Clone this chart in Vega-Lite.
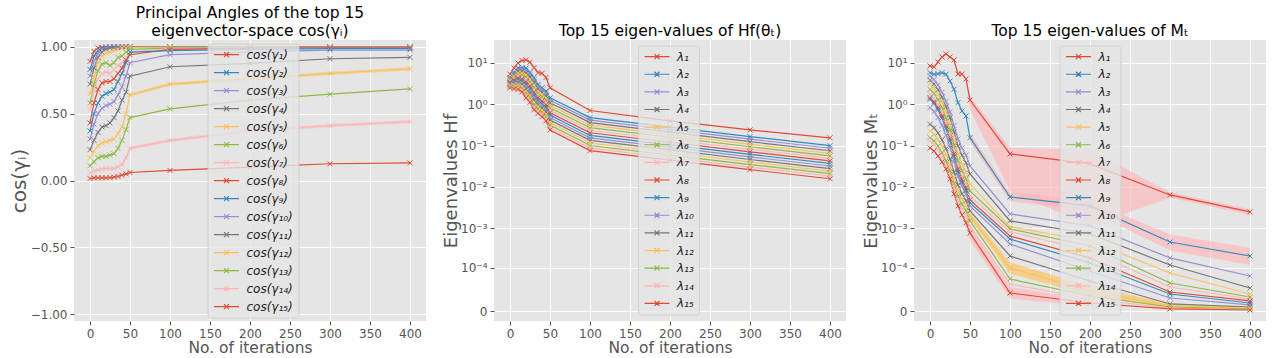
{
"$schema": "https://vega.github.io/schema/vega-lite/v6.json",
"padding": {"left": 9, "top": 5, "right": 5, "bottom": 0},
"background": "#FFFFFF",
"config": {
  "view": {"fill": "#E5E5E5", "stroke": null},
  "axis": {"gridColor": "#FFFFFF", "gridWidth": 1, "domain": false, "tickColor": "#555555", "tickSize": 4, "labelColor": "#555555", "labelFont": "DejaVu Sans", "labelFontSize": 12, "titleFont": "DejaVu Sans", "titleColor": "#555555", "titleFontWeight": "normal", "labelPadding": 3},
  "title": {"font": "DejaVu Sans", "fontSize": 15.5, "fontWeight": "normal", "color": "#000000", "offset": 1, "anchor": "middle", "lineHeight": 18},
  "legend": {"labelFont": "DejaVu Sans", "labelFontSize": 12, "labelColor": "#222222", "labelFontStyle": "italic", "title": null, "orient": "none", "symbolType": "M-2.5,0H2.5M-0.5,-0.5L0.5,0.5M-0.5,0.5L0.5,-0.5", "symbolSize": 100, "symbolStrokeWidth": 1.2, "symbolOffset": 8, "labelOffset": 14, "padding": 5, "rowPadding": 5.63, "fillColor": "rgba(229,229,229,0.8)", "strokeColor": "rgba(204,204,204,0.8)", "cornerRadius": 3, "symbolOpacity": 1}
},
"spacing": 68,
"bounds": "flush",
"resolve": {"scale": {"x": "independent", "y": "independent", "color": "independent", "fill": "independent"}, "legend": {"color": "independent"}},
"hconcat": [
{
  "width": 352, "height": 281,
  "title": {"text": ["Principal Angles of the top 15", "eigenvector-space cos(γᵢ)"]},
  "layer": [
    {"data": {"name": "b1"}, "mark": {"type": "area", "opacity": 0.5},
     "encoding": {
       "x": {"field": "x", "type": "quantitative", "scale": {"domain": [-20, 420], "nice": false, "zero": false}},
       "y": {"field": "lo", "type": "quantitative", "scale": {"domain": [-1.05, 1.05], "nice": false, "zero": false}},
       "y2": {"field": "hi"},
       "fill": {"field": "s", "type": "nominal", "scale": {"domain": [12, 14], "range": ["#FBC15E", "#FFB5B8"]}, "legend": null}
     }},
    {"data": {"name": "p1"}, "mark": {"type": "line", "strokeWidth": 1.2},
     "encoding": {
       "x": {"field": "x", "type": "quantitative", "axis": {"values": [0,50,100,150,200,250,300,350,400], "title": "No. of iterations", "titleFontSize": 15.5, "titlePadding": 1}},
       "y": {"field": "v", "type": "quantitative", "axis": {"values": [-1,-0.75,-0.5,-0.25,0,0.25,0.5,0.75,1], "format": ".2f", "title": "cos(γᵢ)", "titleFontSize": 20, "titlePadding": 1}},
       "color": {"field": "s", "type": "nominal", "scale": {"domain": [1,2,3,4,5,6,7,8,9,10,11,12,13,14,15], "range": ["#E24A33","#348ABD","#988ED5","#777777","#FBC15E","#8EBA42","#FFB5B8","#E24A33","#348ABD","#988ED5","#777777","#FBC15E","#8EBA42","#FFB5B8","#E24A33"]}, "legend": {"legendX": 133.5, "legendY": 3.6, "rowPadding": 6.0, "labelExpr": "['cos(γ₁)','cos(γ₂)','cos(γ₃)','cos(γ₄)','cos(γ₅)','cos(γ₆)','cos(γ₇)','cos(γ₈)','cos(γ₉)','cos(γ₁₀)','cos(γ₁₁)','cos(γ₁₂)','cos(γ₁₃)','cos(γ₁₄)','cos(γ₁₅)'][datum.value-1]"}}
     }},
    {"data": {"name": "p1"}, "mark": {"type": "point", "shape": "M-1,-1L1,1M-1,1L1,-1", "filled": false, "size": 25, "strokeWidth": 1, "opacity": 1},
     "encoding": {
       "x": {"field": "x", "type": "quantitative"},
       "y": {"field": "v", "type": "quantitative"},
       "color": {"field": "s", "type": "nominal"}
     }}
  ]
},
{
  "width": 352, "height": 281,
  "title": {"text": "Top 15 eigen-values of Hf(θₜ)"},
  "layer": [
    {"data": {"name": "p2"}, "mark": {"type": "line", "strokeWidth": 1.2},
     "encoding": {
       "x": {"field": "x", "type": "quantitative", "scale": {"domain": [-20, 420], "nice": false, "zero": false}, "axis": {"values": [0,50,100,150,200,250,300,350,400], "title": "No. of iterations", "titleFontSize": 15.5, "titlePadding": 1}},
       "y": {"field": "v", "type": "quantitative", "scale": {"type": "symlog", "constant": 0.00001, "domain": [-0.00000745, 36.0], "nice": false, "zero": false}, "axis": {"values": [0, 0.0001, 0.001, 0.01, 0.1, 1, 10], "labelExpr": "datum.value == 0 ? '0' : datum.value > 5 ? '10¹' : datum.value > 0.5 ? '10⁰' : datum.value > 0.05 ? '10⁻¹' : datum.value > 0.005 ? '10⁻²' : datum.value > 0.0005 ? '10⁻³' : '10⁻⁴'", "title": "Eigenvalues Hf", "titleFontSize": 18, "titlePadding": 0}},
       "color": {"field": "s", "type": "nominal", "scale": {"domain": [1,2,3,4,5,6,7,8,9,10,11,12,13,14,15], "range": ["#E24A33","#348ABD","#988ED5","#777777","#FBC15E","#8EBA42","#FFB5B8","#E24A33","#348ABD","#988ED5","#777777","#FBC15E","#8EBA42","#FFB5B8","#E24A33"]}, "legend": {"legendX": 144, "legendY": 5.6, "labelExpr": "['λ₁','λ₂','λ₃','λ₄','λ₅','λ₆','λ₇','λ₈','λ₉','λ₁₀','λ₁₁','λ₁₂','λ₁₃','λ₁₄','λ₁₅'][datum.value-1]"}}
     }},
    {"data": {"name": "p2"}, "mark": {"type": "point", "shape": "M-1,-1L1,1M-1,1L1,-1", "filled": false, "size": 25, "strokeWidth": 1, "opacity": 1},
     "encoding": {
       "x": {"field": "x", "type": "quantitative"},
       "y": {"field": "v", "type": "quantitative"},
       "color": {"field": "s", "type": "nominal"}
     }}
  ]
},
{
  "width": 352, "height": 281,
  "title": {"text": "Top 15 eigen-values of Mₜ"},
  "layer": [
    {"data": {"name": "b3"}, "mark": {"type": "area", "opacity": 0.65},
     "encoding": {
       "x": {"field": "x", "type": "quantitative", "scale": {"domain": [-20, 420], "nice": false, "zero": false}},
       "y": {"field": "lo", "type": "quantitative", "scale": {"type": "symlog", "constant": 0.00001, "domain": [-0.00000745, 36.0], "nice": false, "zero": false}},
       "y2": {"field": "hi"},
       "fill": {"field": "s", "type": "nominal", "scale": {"domain": [1, 2, 12, 15], "range": ["#FFB5B8", "#FFB5B8", "#FBC15E", "#FFB5B8"]}, "legend": null}
     }},
    {"data": {"name": "p3"}, "mark": {"type": "line", "strokeWidth": 1.2},
     "encoding": {
       "x": {"field": "x", "type": "quantitative", "axis": {"values": [0,50,100,150,200,250,300,350,400], "title": "No. of iterations", "titleFontSize": 15.5, "titlePadding": 1}},
       "y": {"field": "v", "type": "quantitative", "axis": {"values": [0, 0.0001, 0.001, 0.01, 0.1, 1, 10], "labelExpr": "datum.value == 0 ? '0' : datum.value > 5 ? '10¹' : datum.value > 0.5 ? '10⁰' : datum.value > 0.05 ? '10⁻¹' : datum.value > 0.005 ? '10⁻²' : datum.value > 0.0005 ? '10⁻³' : '10⁻⁴'", "title": "Eigenvalues Mₜ", "titleFontSize": 18, "titlePadding": 0}},
       "color": {"field": "s", "type": "nominal", "scale": {"domain": [1,2,3,4,5,6,7,8,9,10,11,12,13,14,15], "range": ["#E24A33","#348ABD","#988ED5","#777777","#FBC15E","#8EBA42","#FFB5B8","#E24A33","#348ABD","#988ED5","#777777","#FBC15E","#8EBA42","#FFB5B8","#E24A33"]}, "legend": {"legendX": 145.5, "legendY": 5.6, "labelExpr": "['λ₁','λ₂','λ₃','λ₄','λ₅','λ₆','λ₇','λ₈','λ₉','λ₁₀','λ₁₁','λ₁₂','λ₁₃','λ₁₄','λ₁₅'][datum.value-1]"}}
     }},
    {"data": {"name": "p3"}, "mark": {"type": "point", "shape": "M-1,-1L1,1M-1,1L1,-1", "filled": false, "size": 25, "strokeWidth": 1, "opacity": 1},
     "encoding": {
       "x": {"field": "x", "type": "quantitative"},
       "y": {"field": "v", "type": "quantitative"},
       "color": {"field": "s", "type": "nominal"}
     }}
  ]
}
],
"datasets": {
"b1": [
{"s":12,"x":40,"lo":0.388,"hi":0.412},{"s":12,"x":45,"lo":0.488,"hi":0.512},{"s":12,"x":50,"lo":0.628,"hi":0.652},{"s":12,"x":100,"lo":0.708,"hi":0.732},{"s":12,"x":200,"lo":0.748,"hi":0.772},{"s":12,"x":300,"lo":0.788,"hi":0.812},{"s":12,"x":400,"lo":0.823,"hi":0.847},
{"s":14,"x":40,"lo":0.108,"hi":0.132},{"s":14,"x":45,"lo":0.158,"hi":0.182},{"s":14,"x":50,"lo":0.228,"hi":0.252},{"s":14,"x":100,"lo":0.288,"hi":0.312},{"s":14,"x":200,"lo":0.358,"hi":0.382},{"s":14,"x":300,"lo":0.398,"hi":0.422},{"s":14,"x":400,"lo":0.428,"hi":0.452}
],
"b3": [
{"s":1,"x":0,"lo":8.0,"hi":9.0},{"s":1,"x":5,"lo":7.5,"hi":8.6},{"s":1,"x":10,"lo":10.0,"hi":11.2},{"s":1,"x":15,"lo":13.2,"hi":14.8},{"s":1,"x":20,"lo":15.6,"hi":17.4},{"s":1,"x":25,"lo":13.2,"hi":14.8},{"s":1,"x":30,"lo":11.1,"hi":12.5},{"s":1,"x":35,"lo":5.0,"hi":5.9},{"s":1,"x":40,"lo":5.0,"hi":5.9},{"s":1,"x":45,"lo":3.8,"hi":4.4},{"s":1,"x":50,"lo":0.75,"hi":1.6},{"s":1,"x":100,"lo":0.0079,"hi":0.089},{"s":1,"x":200,"lo":0.00114,"hi":0.08},{"s":1,"x":300,"lo":0.0055,"hi":0.0075},{"s":1,"x":400,"lo":0.0021,"hi":0.0029},
{"s":2,"x":50,"lo":0.12,"hi":0.2},{"s":2,"x":100,"lo":0.0045,"hi":0.0075},{"s":2,"x":200,"lo":0.0026,"hi":0.0046},{"s":2,"x":300,"lo":2.8e-4,"hi":7e-4},{"s":2,"x":400,"lo":1.2e-4,"hi":3.3e-4},
{"s":12,"x":50,"lo":0.0017,"hi":0.0024},{"s":12,"x":100,"lo":7e-5,"hi":1.4e-4},{"s":12,"x":200,"lo":1.4e-5,"hi":3e-5},{"s":12,"x":300,"lo":2e-6,"hi":5e-6},{"s":12,"x":400,"lo":1e-6,"hi":2.8e-6},
{"s":15,"x":45,"lo":0.0011,"hi":0.0016},{"s":15,"x":50,"lo":5e-4,"hi":1.1e-3},{"s":15,"x":100,"lo":1.0e-5,"hi":2.8e-5},{"s":15,"x":200,"lo":3e-6,"hi":9e-6}
],
"p1": [
{"s":1,"x":0,"v":0.89},{"s":1,"x":5,"v":0.965},{"s":1,"x":10,"v":0.99},{"s":1,"x":15,"v":0.995},{"s":1,"x":20,"v":0.998},{"s":1,"x":25,"v":0.999},{"s":1,"x":30,"v":0.999},{"s":1,"x":35,"v":0.999},{"s":1,"x":40,"v":1},{"s":1,"x":45,"v":1},{"s":1,"x":50,"v":1},{"s":1,"x":100,"v":0.999},{"s":1,"x":200,"v":0.999},{"s":1,"x":300,"v":0.999},{"s":1,"x":400,"v":0.999},
{"s":2,"x":0,"v":0.83},{"s":2,"x":5,"v":0.93},{"s":2,"x":10,"v":0.97},{"s":2,"x":15,"v":0.99},{"s":2,"x":20,"v":0.995},{"s":2,"x":25,"v":0.997},{"s":2,"x":30,"v":0.998},{"s":2,"x":35,"v":0.998},{"s":2,"x":40,"v":0.999},{"s":2,"x":45,"v":0.999},{"s":2,"x":50,"v":0.999},{"s":2,"x":100,"v":0.998},{"s":2,"x":200,"v":0.998},{"s":2,"x":300,"v":0.998},{"s":2,"x":400,"v":0.998},
{"s":3,"x":0,"v":0.78},{"s":3,"x":5,"v":0.89},{"s":3,"x":10,"v":0.95},{"s":3,"x":15,"v":0.98},{"s":3,"x":20,"v":0.99},{"s":3,"x":25,"v":0.994},{"s":3,"x":30,"v":0.996},{"s":3,"x":35,"v":0.997},{"s":3,"x":40,"v":0.998},{"s":3,"x":45,"v":0.998},{"s":3,"x":50,"v":0.998},{"s":3,"x":100,"v":0.997},{"s":3,"x":200,"v":0.997},{"s":3,"x":300,"v":0.997},{"s":3,"x":400,"v":0.997},
{"s":4,"x":0,"v":0.72},{"s":4,"x":5,"v":0.84},{"s":4,"x":10,"v":0.92},{"s":4,"x":15,"v":0.96},{"s":4,"x":20,"v":0.98},{"s":4,"x":25,"v":0.99},{"s":4,"x":30,"v":0.993},{"s":4,"x":35,"v":0.995},{"s":4,"x":40,"v":0.996},{"s":4,"x":45,"v":0.997},{"s":4,"x":50,"v":0.997},{"s":4,"x":100,"v":0.996},{"s":4,"x":200,"v":0.996},{"s":4,"x":300,"v":0.996},{"s":4,"x":400,"v":0.996},
{"s":5,"x":0,"v":0.65},{"s":5,"x":5,"v":0.78},{"s":5,"x":10,"v":0.88},{"s":5,"x":15,"v":0.93},{"s":5,"x":20,"v":0.95},{"s":5,"x":25,"v":0.96},{"s":5,"x":30,"v":0.97},{"s":5,"x":35,"v":0.98},{"s":5,"x":40,"v":0.99},{"s":5,"x":45,"v":0.99},{"s":5,"x":50,"v":0.995},{"s":5,"x":100,"v":0.995},{"s":5,"x":200,"v":0.995},{"s":5,"x":300,"v":0.995},{"s":5,"x":400,"v":0.995},
{"s":6,"x":0,"v":0.58},{"s":6,"x":5,"v":0.72},{"s":6,"x":10,"v":0.82},{"s":6,"x":15,"v":0.87},{"s":6,"x":20,"v":0.88},{"s":6,"x":25,"v":0.86},{"s":6,"x":30,"v":0.88},{"s":6,"x":35,"v":0.92},{"s":6,"x":40,"v":0.93},{"s":6,"x":45,"v":0.96},{"s":6,"x":50,"v":0.98},{"s":6,"x":100,"v":0.99},{"s":6,"x":200,"v":0.993},{"s":6,"x":300,"v":0.994},{"s":6,"x":400,"v":0.994},
{"s":7,"x":0,"v":0.53},{"s":7,"x":5,"v":0.68},{"s":7,"x":10,"v":0.76},{"s":7,"x":15,"v":0.80},{"s":7,"x":20,"v":0.81},{"s":7,"x":25,"v":0.80},{"s":7,"x":30,"v":0.83},{"s":7,"x":35,"v":0.86},{"s":7,"x":40,"v":0.88},{"s":7,"x":45,"v":0.92},{"s":7,"x":50,"v":0.96},{"s":7,"x":100,"v":0.985},{"s":7,"x":200,"v":0.99},{"s":7,"x":300,"v":0.992},{"s":7,"x":400,"v":0.993},
{"s":8,"x":0,"v":0.43},{"s":8,"x":5,"v":0.58},{"s":8,"x":10,"v":0.68},{"s":8,"x":15,"v":0.73},{"s":8,"x":20,"v":0.74},{"s":8,"x":25,"v":0.74},{"s":8,"x":30,"v":0.76},{"s":8,"x":35,"v":0.80},{"s":8,"x":40,"v":0.84},{"s":8,"x":45,"v":0.90},{"s":8,"x":50,"v":0.94},{"s":8,"x":100,"v":0.98},{"s":8,"x":200,"v":0.99},{"s":8,"x":300,"v":0.992},{"s":8,"x":400,"v":0.992},
{"s":9,"x":0,"v":0.37},{"s":9,"x":5,"v":0.50},{"s":9,"x":10,"v":0.58},{"s":9,"x":15,"v":0.63},{"s":9,"x":20,"v":0.65},{"s":9,"x":25,"v":0.66},{"s":9,"x":30,"v":0.68},{"s":9,"x":35,"v":0.74},{"s":9,"x":40,"v":0.80},{"s":9,"x":45,"v":0.88},{"s":9,"x":50,"v":0.96},{"s":9,"x":100,"v":0.97},{"s":9,"x":200,"v":0.98},{"s":9,"x":300,"v":0.985},{"s":9,"x":400,"v":0.985},
{"s":10,"x":0,"v":0.31},{"s":10,"x":5,"v":0.42},{"s":10,"x":10,"v":0.50},{"s":10,"x":15,"v":0.54},{"s":10,"x":20,"v":0.56},{"s":10,"x":25,"v":0.57},{"s":10,"x":30,"v":0.59},{"s":10,"x":35,"v":0.64},{"s":10,"x":40,"v":0.70},{"s":10,"x":45,"v":0.78},{"s":10,"x":50,"v":0.88},{"s":10,"x":100,"v":0.94},{"s":10,"x":200,"v":0.96},{"s":10,"x":300,"v":0.975},{"s":10,"x":400,"v":0.975},
{"s":11,"x":0,"v":0.23},{"s":11,"x":5,"v":0.30},{"s":11,"x":10,"v":0.36},{"s":11,"x":15,"v":0.40},{"s":11,"x":20,"v":0.41},{"s":11,"x":25,"v":0.43},{"s":11,"x":30,"v":0.47},{"s":11,"x":35,"v":0.52},{"s":11,"x":40,"v":0.60},{"s":11,"x":45,"v":0.66},{"s":11,"x":50,"v":0.78},{"s":11,"x":100,"v":0.85},{"s":11,"x":200,"v":0.875},{"s":11,"x":300,"v":0.91},{"s":11,"x":400,"v":0.92},
{"s":12,"x":0,"v":0.17},{"s":12,"x":5,"v":0.22},{"s":12,"x":10,"v":0.26},{"s":12,"x":15,"v":0.28},{"s":12,"x":20,"v":0.29},{"s":12,"x":25,"v":0.30},{"s":12,"x":30,"v":0.31},{"s":12,"x":35,"v":0.35},{"s":12,"x":40,"v":0.40},{"s":12,"x":45,"v":0.50},{"s":12,"x":50,"v":0.64},{"s":12,"x":100,"v":0.72},{"s":12,"x":200,"v":0.76},{"s":12,"x":300,"v":0.80},{"s":12,"x":400,"v":0.835},
{"s":13,"x":0,"v":0.11},{"s":13,"x":5,"v":0.14},{"s":13,"x":10,"v":0.17},{"s":13,"x":15,"v":0.18},{"s":13,"x":20,"v":0.18},{"s":13,"x":25,"v":0.19},{"s":13,"x":30,"v":0.20},{"s":13,"x":35,"v":0.24},{"s":13,"x":40,"v":0.30},{"s":13,"x":45,"v":0.38},{"s":13,"x":50,"v":0.47},{"s":13,"x":100,"v":0.535},{"s":13,"x":200,"v":0.60},{"s":13,"x":300,"v":0.645},{"s":13,"x":400,"v":0.685},
{"s":14,"x":0,"v":0.06},{"s":14,"x":5,"v":0.07},{"s":14,"x":10,"v":0.08},{"s":14,"x":15,"v":0.085},{"s":14,"x":20,"v":0.09},{"s":14,"x":25,"v":0.09},{"s":14,"x":30,"v":0.09},{"s":14,"x":35,"v":0.10},{"s":14,"x":40,"v":0.12},{"s":14,"x":45,"v":0.17},{"s":14,"x":50,"v":0.24},{"s":14,"x":100,"v":0.30},{"s":14,"x":200,"v":0.37},{"s":14,"x":300,"v":0.41},{"s":14,"x":400,"v":0.44},
{"s":15,"x":0,"v":0.015},{"s":15,"x":5,"v":0.02},{"s":15,"x":10,"v":0.02},{"s":15,"x":15,"v":0.02},{"s":15,"x":20,"v":0.02},{"s":15,"x":25,"v":0.022},{"s":15,"x":30,"v":0.025},{"s":15,"x":35,"v":0.03},{"s":15,"x":40,"v":0.04},{"s":15,"x":45,"v":0.05},{"s":15,"x":50,"v":0.06},{"s":15,"x":100,"v":0.075},{"s":15,"x":200,"v":0.10},{"s":15,"x":300,"v":0.125},{"s":15,"x":400,"v":0.132}
],
"p2": [
{"s":1,"x":0,"v":5.37},{"s":1,"x":5,"v":7.59},{"s":1,"x":10,"v":10},{"s":1,"x":15,"v":11.48},{"s":1,"x":20,"v":11.89},{"s":1,"x":25,"v":10.47},{"s":1,"x":30,"v":7.76},{"s":1,"x":35,"v":5.89},{"s":1,"x":40,"v":5.62},{"s":1,"x":45,"v":4.47},{"s":1,"x":50,"v":2.51},{"s":1,"x":100,"v":0.708},{"s":1,"x":200,"v":0.398},{"s":1,"x":300,"v":0.240},{"s":1,"x":400,"v":0.155},
{"s":2,"x":0,"v":4.47},{"s":2,"x":5,"v":5.89},{"s":2,"x":10,"v":7.59},{"s":2,"x":15,"v":7.76},{"s":2,"x":20,"v":7.59},{"s":2,"x":25,"v":5.89},{"s":2,"x":30,"v":4.47},{"s":2,"x":35,"v":3.02},{"s":2,"x":40,"v":2.51},{"s":2,"x":45,"v":2.09},{"s":2,"x":50,"v":1.43},{"s":2,"x":100,"v":0.479},{"s":2,"x":200,"v":0.282},{"s":2,"x":300,"v":0.166},{"s":2,"x":400,"v":0.100},
{"s":3,"x":0,"v":4.28},{"s":3,"x":5,"v":5.50},{"s":3,"x":10,"v":6.92},{"s":3,"x":15,"v":7.00},{"s":3,"x":20,"v":6.67},{"s":3,"x":25,"v":5.19},{"s":3,"x":30,"v":3.89},{"s":3,"x":35,"v":2.67},{"s":3,"x":40,"v":2.22},{"s":3,"x":45,"v":1.84},{"s":3,"x":50,"v":1.245},{"s":3,"x":100,"v":0.415},{"s":3,"x":200,"v":0.244},{"s":3,"x":300,"v":0.144},{"s":3,"x":400,"v":0.0867},
{"s":4,"x":0,"v":4.09},{"s":4,"x":5,"v":5.13},{"s":4,"x":10,"v":6.31},{"s":4,"x":15,"v":6.30},{"s":4,"x":20,"v":5.86},{"s":4,"x":25,"v":4.56},{"s":4,"x":30,"v":3.39},{"s":4,"x":35,"v":2.36},{"s":4,"x":40,"v":1.96},{"s":4,"x":45,"v":1.62},{"s":4,"x":50,"v":1.087},{"s":4,"x":100,"v":0.361},{"s":4,"x":200,"v":0.212},{"s":4,"x":300,"v":0.125},{"s":4,"x":400,"v":0.0753},
{"s":5,"x":0,"v":3.91},{"s":5,"x":5,"v":4.79},{"s":5,"x":10,"v":5.75},{"s":5,"x":15,"v":5.68},{"s":5,"x":20,"v":5.16},{"s":5,"x":25,"v":4.02},{"s":5,"x":30,"v":2.95},{"s":5,"x":35,"v":2.08},{"s":5,"x":40,"v":1.73},{"s":5,"x":45,"v":1.43},{"s":5,"x":50,"v":0.946},{"s":5,"x":100,"v":0.313},{"s":5,"x":200,"v":0.184},{"s":5,"x":300,"v":0.108},{"s":5,"x":400,"v":0.0653},
{"s":6,"x":0,"v":3.74},{"s":6,"x":5,"v":4.47},{"s":6,"x":10,"v":5.25},{"s":6,"x":15,"v":5.11},{"s":6,"x":20,"v":4.54},{"s":6,"x":25,"v":3.53},{"s":6,"x":30,"v":2.57},{"s":6,"x":35,"v":1.84},{"s":6,"x":40,"v":1.53},{"s":6,"x":45,"v":1.25},{"s":6,"x":50,"v":0.826},{"s":6,"x":100,"v":0.272},{"s":6,"x":200,"v":0.160},{"s":6,"x":300,"v":0.0942},{"s":6,"x":400,"v":0.0568},
{"s":7,"x":0,"v":3.58},{"s":7,"x":5,"v":4.17},{"s":7,"x":10,"v":4.79},{"s":7,"x":15,"v":4.60},{"s":7,"x":20,"v":3.99},{"s":7,"x":25,"v":3.11},{"s":7,"x":30,"v":2.24},{"s":7,"x":35,"v":1.63},{"s":7,"x":40,"v":1.35},{"s":7,"x":45,"v":1.10},{"s":7,"x":50,"v":0.719},{"s":7,"x":100,"v":0.236},{"s":7,"x":200,"v":0.139},{"s":7,"x":300,"v":0.0817},{"s":7,"x":400,"v":0.0492},
{"s":8,"x":0,"v":3.43},{"s":8,"x":5,"v":3.89},{"s":8,"x":10,"v":4.37},{"s":8,"x":15,"v":4.15},{"s":8,"x":20,"v":3.51},{"s":8,"x":25,"v":2.74},{"s":8,"x":30,"v":1.95},{"s":8,"x":35,"v":1.44},{"s":8,"x":40,"v":1.19},{"s":8,"x":45,"v":0.973},{"s":8,"x":50,"v":0.627},{"s":8,"x":100,"v":0.205},{"s":8,"x":200,"v":0.121},{"s":8,"x":300,"v":0.0710},{"s":8,"x":400,"v":0.0428},
{"s":9,"x":0,"v":3.27},{"s":9,"x":5,"v":3.63},{"s":9,"x":10,"v":3.98},{"s":9,"x":15,"v":3.73},{"s":9,"x":20,"v":3.09},{"s":9,"x":25,"v":2.41},{"s":9,"x":30,"v":1.70},{"s":9,"x":35,"v":1.27},{"s":9,"x":40,"v":1.05},{"s":9,"x":45,"v":0.855},{"s":9,"x":50,"v":0.547},{"s":9,"x":100,"v":0.177},{"s":9,"x":200,"v":0.104},{"s":9,"x":300,"v":0.0615},{"s":9,"x":400,"v":0.0371},
{"s":10,"x":0,"v":3.13},{"s":10,"x":5,"v":3.39},{"s":10,"x":10,"v":3.63},{"s":10,"x":15,"v":3.37},{"s":10,"x":20,"v":2.72},{"s":10,"x":25,"v":2.12},{"s":10,"x":30,"v":1.48},{"s":10,"x":35,"v":1.12},{"s":10,"x":40,"v":0.931},{"s":10,"x":45,"v":0.753},{"s":10,"x":50,"v":0.476},{"s":10,"x":100,"v":0.154},{"s":10,"x":200,"v":0.0908},{"s":10,"x":300,"v":0.0535},{"s":10,"x":400,"v":0.0322},
{"s":11,"x":0,"v":3.00},{"s":11,"x":5,"v":3.16},{"s":11,"x":10,"v":3.31},{"s":11,"x":15,"v":3.03},{"s":11,"x":20,"v":2.39},{"s":11,"x":25,"v":1.87},{"s":11,"x":30,"v":1.29},{"s":11,"x":35,"v":0.989},{"s":11,"x":40,"v":0.822},{"s":11,"x":45,"v":0.664},{"s":11,"x":50,"v":0.415},{"s":11,"x":100,"v":0.134},{"s":11,"x":200,"v":0.0787},{"s":11,"x":300,"v":0.0463},{"s":11,"x":400,"v":0.0279},
{"s":12,"x":0,"v":2.87},{"s":12,"x":5,"v":2.95},{"s":12,"x":10,"v":3.02},{"s":12,"x":15,"v":2.73},{"s":12,"x":20,"v":2.10},{"s":12,"x":25,"v":1.64},{"s":12,"x":30,"v":1.12},{"s":12,"x":35,"v":0.875},{"s":12,"x":40,"v":0.728},{"s":12,"x":45,"v":0.583},{"s":12,"x":50,"v":0.362},{"s":12,"x":100,"v":0.116},{"s":12,"x":200,"v":0.0684},{"s":12,"x":300,"v":0.0403},{"s":12,"x":400,"v":0.0243},
{"s":13,"x":0,"v":2.74},{"s":13,"x":5,"v":2.75},{"s":13,"x":10,"v":2.75},{"s":13,"x":15,"v":2.46},{"s":13,"x":20,"v":1.85},{"s":13,"x":25,"v":1.45},{"s":13,"x":30,"v":0.977},{"s":13,"x":35,"v":0.773},{"s":13,"x":40,"v":0.643},{"s":13,"x":45,"v":0.514},{"s":13,"x":50,"v":0.316},{"s":13,"x":100,"v":0.1007},{"s":13,"x":200,"v":0.0593},{"s":13,"x":300,"v":0.0349},{"s":13,"x":400,"v":0.0210},
{"s":14,"x":0,"v":2.62},{"s":14,"x":5,"v":2.57},{"s":14,"x":10,"v":2.51},{"s":14,"x":15,"v":2.21},{"s":14,"x":20,"v":1.63},{"s":14,"x":25,"v":1.27},{"s":14,"x":30,"v":0.851},{"s":14,"x":35,"v":0.682},{"s":14,"x":40,"v":0.568},{"s":14,"x":45,"v":0.452},{"s":14,"x":50,"v":0.275},{"s":14,"x":100,"v":0.0875},{"s":14,"x":200,"v":0.0515},{"s":14,"x":300,"v":0.0303},{"s":14,"x":400,"v":0.0183},
{"s":15,"x":0,"v":2.51},{"s":15,"x":5,"v":2.40},{"s":15,"x":10,"v":2.29},{"s":15,"x":15,"v":2.00},{"s":15,"x":20,"v":1.43},{"s":15,"x":25,"v":1.12},{"s":15,"x":30,"v":0.741},{"s":15,"x":35,"v":0.603},{"s":15,"x":40,"v":0.501},{"s":15,"x":45,"v":0.398},{"s":15,"x":50,"v":0.240},{"s":15,"x":100,"v":0.0759},{"s":15,"x":200,"v":0.0447},{"s":15,"x":300,"v":0.0263},{"s":15,"x":400,"v":0.0158}
],
"p3": [
{"s":1,"x":0,"v":8.47},{"s":1,"x":5,"v":8.02},{"s":1,"x":10,"v":10.6},{"s":1,"x":15,"v":14.0},{"s":1,"x":20,"v":16.5},{"s":1,"x":25,"v":14.0},{"s":1,"x":30,"v":11.8},{"s":1,"x":35,"v":5.42},{"s":1,"x":40,"v":5.42},{"s":1,"x":45,"v":4.10},{"s":1,"x":50,"v":1.27},{"s":1,"x":100,"v":0.0630},{"s":1,"x":200,"v":0.0361},{"s":1,"x":300,"v":0.00641},{"s":1,"x":400,"v":0.00248},
{"s":2,"x":0,"v":5.83},{"s":2,"x":5,"v":5.33},{"s":2,"x":10,"v":5.52},{"s":2,"x":15,"v":5.83},{"s":2,"x":20,"v":5.33},{"s":2,"x":25,"v":3.67},{"s":2,"x":30,"v":2.31},{"s":2,"x":35,"v":1.10},{"s":2,"x":40,"v":0.690},{"s":2,"x":45,"v":0.522},{"s":2,"x":50,"v":0.156},{"s":2,"x":100,"v":0.00573},{"s":2,"x":200,"v":0.00348},{"s":2,"x":300,"v":4.57e-4},{"s":2,"x":400,"v":2.04e-4},
{"s":3,"x":0,"v":4.85},{"s":3,"x":5,"v":3.97},{"s":3,"x":10,"v":2.94},{"s":3,"x":15,"v":1.97},{"s":3,"x":20,"v":1.19},{"s":3,"x":25,"v":0.653},{"s":3,"x":30,"v":0.308},{"s":3,"x":35,"v":0.145},{"s":3,"x":40,"v":0.0879},{"s":3,"x":45,"v":0.0589},{"s":3,"x":50,"v":0.0322},{"s":3,"x":100,"v":0.00222},{"s":3,"x":200,"v":0.00114},{"s":3,"x":300,"v":1.82e-4},{"s":3,"x":400,"v":6.03e-5},
{"s":4,"x":0,"v":3.82},{"s":4,"x":5,"v":3.10},{"s":4,"x":10,"v":2.26},{"s":4,"x":15,"v":1.49},{"s":4,"x":20,"v":0.887},{"s":4,"x":25,"v":0.473},{"s":4,"x":30,"v":0.217},{"s":4,"x":35,"v":0.0989},{"s":4,"x":40,"v":0.0585},{"s":4,"x":45,"v":0.0385},{"s":4,"x":50,"v":0.0207},{"s":4,"x":100,"v":0.00151},{"s":4,"x":200,"v":7.29e-4},{"s":4,"x":300,"v":1.20e-4},{"s":4,"x":400,"v":2.60e-5},
{"s":5,"x":0,"v":3.05},{"s":5,"x":5,"v":2.44},{"s":5,"x":10,"v":1.75},{"s":5,"x":15,"v":1.13},{"s":5,"x":20,"v":0.646},{"s":5,"x":25,"v":0.331},{"s":5,"x":30,"v":0.144},{"s":5,"x":35,"v":0.0625},{"s":5,"x":40,"v":0.0358},{"s":5,"x":45,"v":0.0231},{"s":5,"x":50,"v":0.0118},{"s":5,"x":100,"v":0.00108},{"s":5,"x":200,"v":4.84e-4},{"s":5,"x":300,"v":7.31e-5},{"s":5,"x":400,"v":1.58e-5},
{"s":6,"x":0,"v":2.31},{"s":6,"x":5,"v":1.84},{"s":6,"x":10,"v":1.31},{"s":6,"x":15,"v":0.834},{"s":6,"x":20,"v":0.473},{"s":6,"x":25,"v":0.239},{"s":6,"x":30,"v":0.103},{"s":6,"x":35,"v":0.0437},{"s":6,"x":40,"v":0.0248},{"s":6,"x":45,"v":0.0158},{"s":6,"x":50,"v":0.00800},{"s":6,"x":100,"v":9.64e-4},{"s":6,"x":200,"v":3.64e-4},{"s":6,"x":300,"v":3.76e-5},{"s":6,"x":400,"v":1.18e-5},
{"s":7,"x":0,"v":1.75},{"s":7,"x":5,"v":1.39},{"s":7,"x":10,"v":0.991},{"s":7,"x":15,"v":0.631},{"s":7,"x":20,"v":0.358},{"s":7,"x":25,"v":0.181},{"s":7,"x":30,"v":0.0778},{"s":7,"x":35,"v":0.0331},{"s":7,"x":40,"v":0.0188},{"s":7,"x":45,"v":0.0120},{"s":7,"x":50,"v":0.00605},{"s":7,"x":100,"v":8.15e-4},{"s":7,"x":200,"v":2.73e-4},{"s":7,"x":300,"v":2.81e-5},{"s":7,"x":400,"v":9.5e-6},
{"s":8,"x":0,"v":1.45},{"s":8,"x":5,"v":1.15},{"s":8,"x":10,"v":0.820},{"s":8,"x":15,"v":0.520},{"s":8,"x":20,"v":0.294},{"s":8,"x":25,"v":0.148},{"s":8,"x":30,"v":0.0630},{"s":8,"x":35,"v":0.0269},{"s":8,"x":40,"v":0.0152},{"s":8,"x":45,"v":0.00962},{"s":8,"x":50,"v":0.00485},{"s":8,"x":100,"v":6.42e-4},{"s":8,"x":200,"v":1.82e-4},{"s":8,"x":300,"v":1.88e-5},{"s":8,"x":400,"v":7.5e-6},
{"s":9,"x":0,"v":1.32},{"s":9,"x":5,"v":1.05},{"s":9,"x":10,"v":0.743},{"s":9,"x":15,"v":0.468},{"s":9,"x":20,"v":0.263},{"s":9,"x":25,"v":0.131},{"s":9,"x":30,"v":0.0553},{"s":9,"x":35,"v":0.0232},{"s":9,"x":40,"v":0.0130},{"s":9,"x":45,"v":0.00818},{"s":9,"x":50,"v":0.00410},{"s":9,"x":100,"v":5.42e-4},{"s":9,"x":200,"v":1.35e-4},{"s":9,"x":300,"v":1.58e-5},{"s":9,"x":400,"v":5.6e-6},
{"s":10,"x":0,"v":0.830},{"s":10,"x":5,"v":0.668},{"s":10,"x":10,"v":0.481},{"s":10,"x":15,"v":0.310},{"s":10,"x":20,"v":0.180},{"s":10,"x":25,"v":0.0929},{"s":10,"x":30,"v":0.0407},{"s":10,"x":35,"v":0.0179},{"s":10,"x":40,"v":0.0104},{"s":10,"x":45,"v":0.00670},{"s":10,"x":50,"v":0.00347},{"s":10,"x":100,"v":4.08e-4},{"s":10,"x":200,"v":8.28e-5},{"s":10,"x":300,"v":1.06e-5},{"s":10,"x":400,"v":4.0e-6},
{"s":11,"x":0,"v":0.329},{"s":11,"x":5,"v":0.271},{"s":11,"x":10,"v":0.203},{"s":11,"x":15,"v":0.138},{"s":11,"x":20,"v":0.0849},{"s":11,"x":25,"v":0.0476},{"s":11,"x":30,"v":0.0231},{"s":11,"x":35,"v":0.0112},{"s":11,"x":40,"v":0.00689},{"s":11,"x":45,"v":0.00469},{"s":11,"x":50,"v":0.00263},{"s":11,"x":100,"v":2.04e-4},{"s":11,"x":200,"v":4.32e-5},{"s":11,"x":300,"v":4.8e-6},{"s":11,"x":400,"v":2.5e-6},
{"s":12,"x":0,"v":0.226},{"s":12,"x":5,"v":0.188},{"s":12,"x":10,"v":0.141},{"s":12,"x":15,"v":0.0966},{"s":12,"x":20,"v":0.0601},{"s":12,"x":25,"v":0.0341},{"s":12,"x":30,"v":0.0167},{"s":12,"x":35,"v":0.00824},{"s":12,"x":40,"v":0.00513},{"s":12,"x":45,"v":0.00351},{"s":12,"x":50,"v":0.00199},{"s":12,"x":100,"v":9.98e-5},{"s":12,"x":200,"v":2.05e-5},{"s":12,"x":300,"v":3.2e-6},{"s":12,"x":400,"v":1.8e-6},
{"s":13,"x":0,"v":0.156},{"s":13,"x":5,"v":0.130},{"s":13,"x":10,"v":0.0982},{"s":13,"x":15,"v":0.0676},{"s":13,"x":20,"v":0.0426},{"s":13,"x":25,"v":0.0244},{"s":13,"x":30,"v":0.0122},{"s":13,"x":35,"v":0.00605},{"s":13,"x":40,"v":0.00382},{"s":13,"x":45,"v":0.00263},{"s":13,"x":50,"v":0.00151},{"s":13,"x":100,"v":4.95e-5},{"s":13,"x":200,"v":1.31e-5},{"s":13,"x":300,"v":2.5e-6},{"s":13,"x":400,"v":1.2e-6},
{"s":14,"x":0,"v":0.130},{"s":14,"x":5,"v":0.107},{"s":14,"x":10,"v":0.0809},{"s":14,"x":15,"v":0.0553},{"s":14,"x":20,"v":0.0344},{"s":14,"x":25,"v":0.0195},{"s":14,"x":30,"v":0.00957},{"s":14,"x":35,"v":0.00472},{"s":14,"x":40,"v":0.00294},{"s":14,"x":45,"v":0.00201},{"s":14,"x":50,"v":0.00113},{"s":14,"x":100,"v":3.5e-5},{"s":14,"x":200,"v":9.5e-6},{"s":14,"x":300,"v":1.8e-6},{"s":14,"x":400,"v":8.7e-7},
{"s":15,"x":0,"v":0.0879},{"s":15,"x":5,"v":0.0743},{"s":15,"x":10,"v":0.0562},{"s":15,"x":15,"v":0.0403},{"s":15,"x":20,"v":0.0273},{"s":15,"x":25,"v":0.0156},{"s":15,"x":30,"v":0.00678},{"s":15,"x":35,"v":0.00347},{"s":15,"x":40,"v":0.00210},{"s":15,"x":45,"v":0.00135},{"s":15,"x":50,"v":7.61e-4},{"s":15,"x":100,"v":1.73e-5},{"s":15,"x":200,"v":5.6e-6},{"s":15,"x":300,"v":1.2e-6},{"s":15,"x":400,"v":5.7e-7}
]
}
}
